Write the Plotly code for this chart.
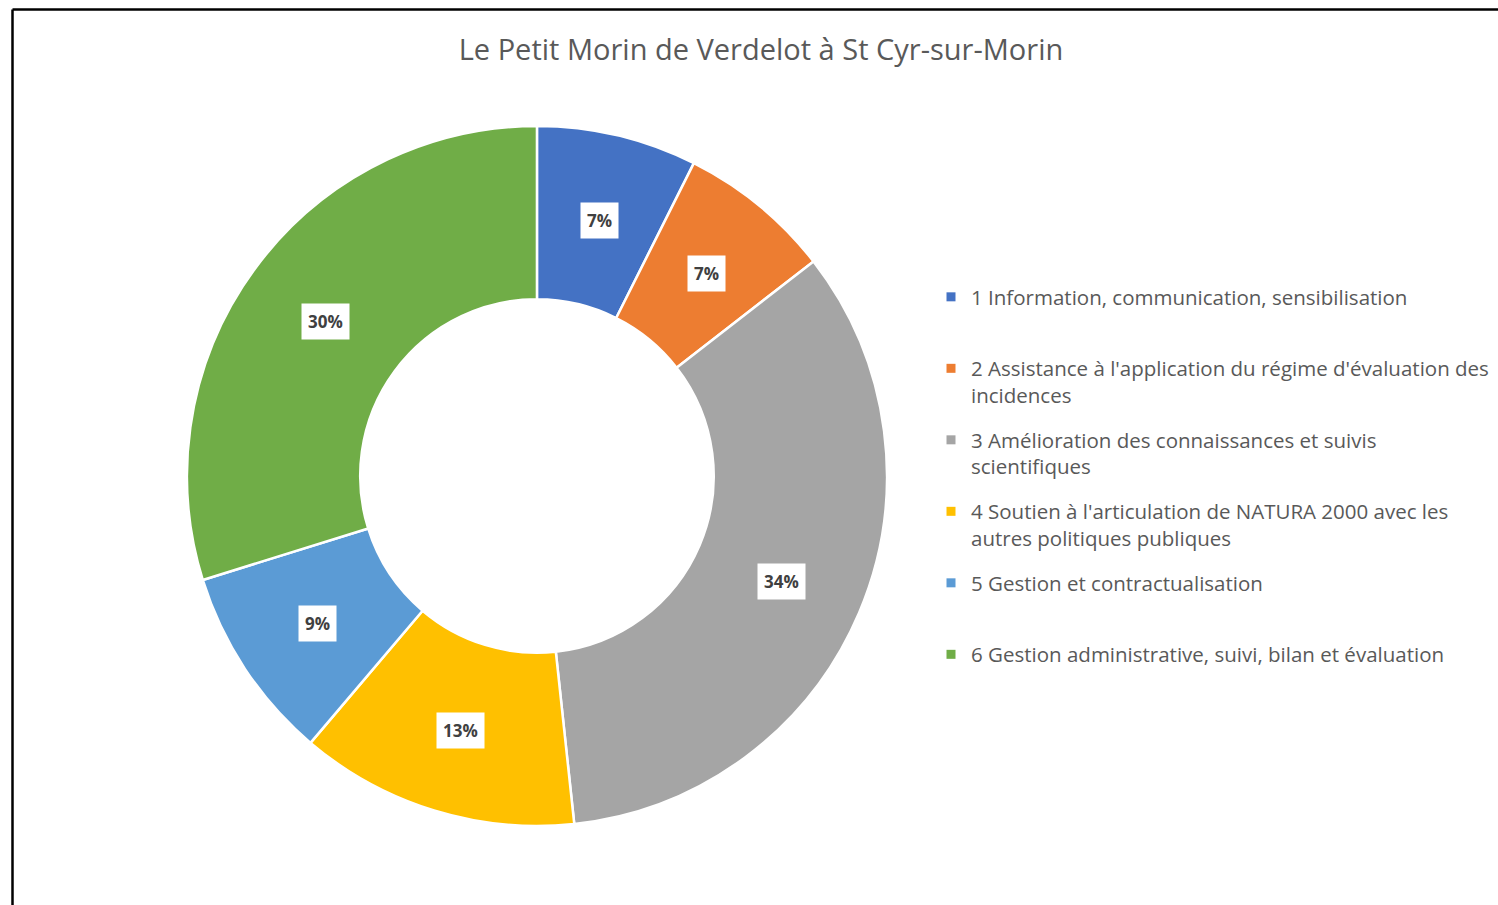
import math
import plotly.graph_objects as go

# ---- data ----
categories = [
    "1 Information, communication, sensibilisation",
    "2 Assistance à l'application du régime d'évaluation des<br>incidences",
    "3 Amélioration des connaissances et suivis<br>scientifiques",
    "4 Soutien à l'articulation de NATURA 2000 avec les<br>autres politiques publiques",
    "5 Gestion et contractualisation",
    "6 Gestion administrative, suivi, bilan et évaluation",
]
values = [7.4, 7.1, 33.8, 12.9, 9.0, 29.8]
colors = ["#4472C4", "#ED7D31", "#A5A5A5", "#FFC000", "#5B9BD5", "#70AD47"]
title_text = "Le Petit Morin de Verdelot à St Cyr-sur-Morin"

# ---- layout constants ----
W, H = 1498, 905
FONT = "Open Sans"
dom_x = [0.1248, 0.5921]
dom_y = [0.0873, 0.8608]
HOLE = 0.505
LEG_FS = 20.5
ITEM_STEP = 71.5  # px between legend entries in the reference

# pad legend entries to equal height (2 lines each)
legend_labels = []
for c in categories:
    n = c.count("<br>") + 1
    legend_labels.append(c + "<br> " * (2 - n))

fig = go.Figure()
fig.add_trace(
    go.Pie(
        labels=legend_labels,
        values=values,
        hole=HOLE,
        sort=False,
        direction="clockwise",
        rotation=0,
        marker=dict(colors=colors, line=dict(color="white", width=2.5)),
        textinfo="none",
        domain=dict(x=dom_x, y=dom_y),
        hoverinfo="label+percent",
        showlegend=False,
    )
)

# legend entries (one per category, each its own group so gaps are even)
for i, (lab, col) in enumerate(zip(legend_labels, colors)):
    fig.add_trace(
        go.Scatter(
            x=[None], y=[None], mode="markers", name=lab,
            legendgroup="g%d" % i,
            marker=dict(symbol="square", size=9, color=col),
            hoverinfo="skip",
        )
    )

# data labels in white boxes, placed at the mid-angle of each slice
cx_px = (dom_x[0] + dom_x[1]) / 2 * W + 1.5
cy_px = (1 - (dom_y[0] + dom_y[1]) / 2) * H + 2
R = min((dom_x[1] - dom_x[0]) * W, (dom_y[1] - dom_y[0]) * H) / 2
r_mid = R * (1 + HOLE) / 2 + 1
total = sum(values)
cum = 0.0
for v in values:
    mid = (cum + v / 2) / total * 2 * math.pi
    cum += v
    px = cx_px + r_mid * math.sin(mid)
    py = cy_px - r_mid * math.cos(mid)
    fig.add_annotation(
        x=px / W, y=1 - py / H, xref="paper", yref="paper",
        xanchor="center", yanchor="middle",
        text="<b>%d%%</b>" % round(v / total * 100),
        showarrow=False,
        bgcolor="white",
        font=dict(family=FONT, size=17, color="#404040"),
        borderpad=6,
    )

# chart-area border (top and left edges visible)
fig.add_shape(type="line", xref="paper", yref="paper",
              x0=12.5 / W, x1=12.5 / W, y0=0, y1=1 - 9.5 / H,
              line=dict(color="black", width=2.5))
fig.add_shape(type="line", xref="paper", yref="paper",
              x0=12.5 / W, x1=1, y0=1 - 9.5 / H, y1=1 - 9.5 / H,
              line=dict(color="black", width=2.5))

item_h = 2 * LEG_FS * 1.3 + 3
fig.update_layout(
    width=W, height=H,
    margin=dict(l=0, r=0, t=0, b=0),
    paper_bgcolor="white",
    plot_bgcolor="white",
    xaxis=dict(visible=False),
    yaxis=dict(visible=False),
    title=dict(text=title_text, x=761 / W, xanchor="center",
               y=1 - 50 / H, yanchor="middle", yref="container",
               font=dict(family=FONT, size=29, color="#595959")),
    legend=dict(
        x=931 / W, xanchor="left", y=1 - 277 / H, yanchor="top",
        font=dict(family=FONT, size=LEG_FS, color="#595959"),
        valign="top", itemwidth=30, bgcolor="rgba(0,0,0,0)",
        traceorder="grouped", tracegroupgap=ITEM_STEP - item_h,
        itemclick=False, itemdoubleclick=False,
    ),
    showlegend=True,
)

fig.write_html("out.html", config={"displayModeBar": False},
               post_script="document.body.style.margin='0';")
